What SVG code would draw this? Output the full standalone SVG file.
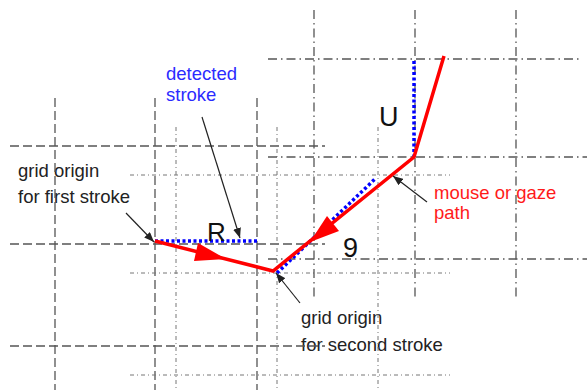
<svg xmlns="http://www.w3.org/2000/svg" width="587" height="390" viewBox="0 0 587 390">
<style>
text{font-family:"Liberation Sans",Arial,sans-serif;font-size:18.5px;fill:#222}
.blue{fill:#2b2bff}
.red{fill:#ff1a1a}
.big{font-size:27px;fill:#111}
.g1{stroke:#555;stroke-width:1.3;stroke-dasharray:9 4;fill:none}
.g2{stroke:#777;stroke-width:1;stroke-dasharray:4 3 1 3;fill:none}
.g3{stroke:#555;stroke-width:1.3;stroke-dasharray:9 4 1.5 4;fill:none}
.ptr{stroke:#222;stroke-width:1.2;fill:none;marker-end:url(#ah)}
.det{stroke:#0000ff;stroke-width:3.5;stroke-dasharray:3 2.5;fill:none}
.path{stroke:#ff0000;stroke-width:3.5;fill:none;stroke-linejoin:miter}
</style>
<defs>
<marker id="ah" viewBox="0 0 10 8" refX="10" refY="4" markerWidth="10" markerHeight="8" markerUnits="userSpaceOnUse" orient="auto">
<path d="M0,0 L10,4 L0,8 z" fill="#222"/>
</marker>
</defs>

<g id="label-first-origin"><text x="18" y="177">grid origin</text><text x="18" y="203">for first stroke</text></g>
<g id="label-second-origin"><text x="301" y="324">grid origin</text><text x="301" y="351">for second stroke</text></g>
<g id="label-detected"><text class="blue" x="166" y="80">detected</text><text class="blue" x="166" y="101">stroke</text></g>
<g id="label-path"><text class="red" x="434" y="199">mouse or gaze</text><text class="red" x="434" y="219">path</text></g>

<g id="grid-first">
<path class="g1" d="M55,98V390M155,98V390M257,98V390"/>
<path class="g1" d="M10,146H325M10,244H325M10,346H325"/>
</g>
<g id="grid-second">
<path class="g2" d="M176,127V390M277,127V390M378,127V390"/>
<path class="g2" d="M130,175H450M130,273H450M130,375H450"/>
</g>
<g id="grid-third">
<path class="g3" d="M314,10V298M415,10V298M516,10V298"/>
<path class="g3" d="M268,59H580M268,157H587M268,259H587"/>
</g>

<g id="detected-strokes">
<path class="det" d="M155,241H257"/>
<path class="det" d="M277,273L376,178"/>
<path class="det" d="M414,61V157"/>
</g>

<g id="gaze-path">
<path class="path" d="M155,241L273,271L414,157L444,56"/>
<polygon fill="#ff0000" points="198,243 194,261 226,259"/>
<polygon fill="#ff0000" points="339,231 327,216 310,242"/>
</g>

<g id="letter-R"><text class="big" x="207" y="241" style="font-size:26px">R</text></g>
<g id="letter-U"><text class="big" x="379" y="126">U</text></g>
<g id="letter-9"><text class="big" x="343" y="257">9</text></g>

<g id="connectors">
<path class="ptr" d="M202,117L240,238"/>
<path class="ptr" d="M126,213L154,242"/>
<path class="ptr" d="M300,303L276,273"/>
<path class="ptr" d="M427,202L393,176"/>
</g>
</svg>
